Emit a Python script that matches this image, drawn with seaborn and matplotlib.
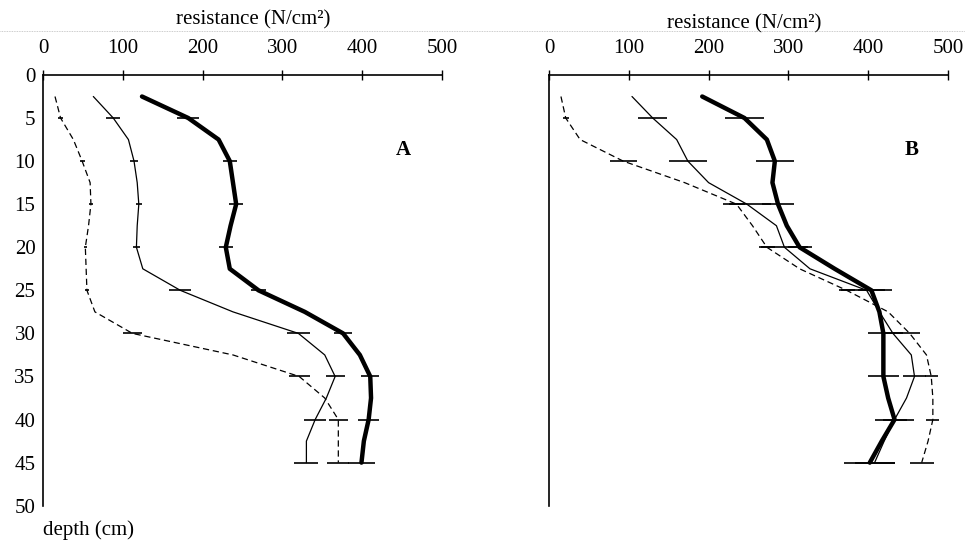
import pandas as pd
import matplotlib.pyplot as plt
import seaborn as sns
from matplotlib.lines import Line2D

# depth (cm) of the profile points, error bars every 5 cm
depth = [2.5, 5, 7.5, 10, 12.5, 15, 17.5, 20, 22.5, 25, 27.5, 30, 32.5, 35, 37.5, 40, 42.5, 45]
bar_depth = [5, 10, 15, 20, 25, 30, 35, 40, 45]

# panel A, resistance (N/cm2)
a_thick = [124, 182, 220, 234, 238, 242, 235, 229, 234, 270, 328, 376, 397, 410, 411, 408, 402, 399]
a_thin = [63, 88, 107, 114, 118, 120, 118, 117, 125, 172, 238, 320, 353, 366, 355, 341, 330, 330]
a_dash = [15, 22, 38, 49, 59, 60, 57, 53, 54, 55, 65, 112, 238, 321, 353, 370, 370, 370]
a_thick_err = [14, 9, 9, 9, 9, 11, 11, 13, 17]
a_thin_err = [9, 5, 4, 4, 14, 14, 12, 14, 15]
a_dash_err = [3, 3, 2, 2, 2, 12, 13, 12, 14]

# panel B
b_thick = [192, 245, 273, 283, 280, 287, 298, 314, 358, 404, 414, 419, 419, 419, 425, 433, 417, 402]
b_thin = [104, 130, 160, 174, 200, 248, 285, 295, 327, 398, 414, 431, 454, 458, 448, 433, 420, 408]
b_dash = [15, 21, 39, 93, 170, 235, 255, 273, 314, 373, 425, 452, 473, 479, 481, 481, 475, 467]
b_thick_err = [24, 24, 20, 15, 17, 19, 19, 24, 32]
b_thin_err = [18, 24, 30, 29, 32, 12, 14, 15, 25]
b_dash_err = [4, 17, 10, 10, 10, 13, 8, 8, 15]

sns.set_style('white')
plt.rcParams['font.family'] = ['Liberation Serif', 'DejaVu Serif']
plt.rcParams['text.color'] = 'k'

fig = plt.figure(figsize=(9.65, 5.44), dpi=100)
axA = fig.add_axes([0.0446, 0.0704, 0.4135, 0.7918])
axB = fig.add_axes([0.5689, 0.0704, 0.4135, 0.7918])

styles = {
    'thick': dict(lw=3.2, ls='-'),
    'thin': dict(lw=0.9, ls='-'),
    'dash': dict(lw=0.9, ls=(0, (5, 3))),
}


def draw(ax, series):
    for key, vals, err in series:
        df = pd.DataFrame({'depth': depth, 'res': vals})
        sns.lineplot(data=df, x='res', y='depth', orient='y', sort=False,
                     estimator=None, color='k', ax=ax, **styles[key])
        xs = [vals[depth.index(d)] for d in bar_depth]
        ax.errorbar(xs, bar_depth, xerr=err, fmt='none', ecolor='k',
                    elinewidth=1.2, capsize=0)

    ax.set_xlim(0, 500)
    ax.set_ylim(50, 0)
    ax.set_xticks(range(0, 501, 100))
    ax.set_yticks(range(0, 51, 5))
    ax.xaxis.tick_top()
    ax.tick_params(axis='both', direction='inout', length=7, width=1,
                   labelsize=15, colors='k')
    ax.tick_params(axis='x', pad=9)
    ax.tick_params(axis='y', pad=2)
    for s in ['right', 'bottom']:
        ax.spines[s].set_visible(False)
    for s in ['top', 'left']:
        ax.spines[s].set_color('k')
        ax.spines[s].set_linewidth(1.2)
    ax.set_xlabel('')
    ax.set_ylabel('')
    ax.grid(False)


draw(axA, [('dash', a_dash, a_dash_err), ('thin', a_thin, a_thin_err),
           ('thick', a_thick, a_thick_err)])
draw(axB, [('dash', b_dash, b_dash_err), ('thin', b_thin, b_thin_err),
           ('thick', b_thick, b_thick_err)])
axB.set_yticklabels([])

axA.text(451, 8.7, 'A', fontsize=15, fontweight='bold', ha='center', va='center', color='k')
axB.text(455, 8.7, 'B', fontsize=15, fontweight='bold', ha='center', va='center', color='k')

fig.text(253 / 965, 1 - 20 / 544, 'resistance (N/cm²)', fontsize=15,
         ha='center', va='center', color='k')
fig.text(744 / 965, 1 - 24 / 544, 'resistance (N/cm²)', fontsize=15,
         ha='center', va='center', color='k')
fig.text(43 / 965, 1 - 530 / 544, 'depth (cm)', fontsize=15,
         ha='left', va='center', color='k')

# faint dotted scan line at the top
fig.add_artist(Line2D([0, 1], [1 - 31 / 544] * 2, color='#bbbbbb', lw=0.6,
                      ls=(0, (1, 1)), transform=fig.transFigure, zorder=0))

fig.savefig('out.png', dpi=100)
